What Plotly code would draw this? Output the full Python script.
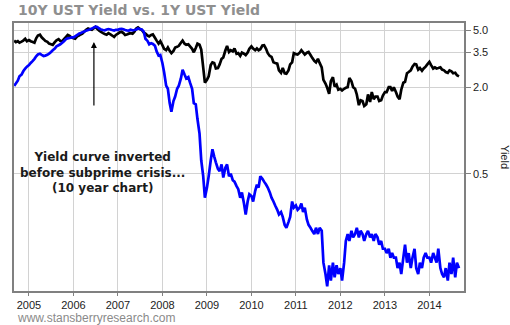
import pandas as pd
import plotly.graph_objects as go

# Observation dates: 1st and 15th of each month, Sep 2004 through Sep 1 2014
months = pd.date_range("2004-09-01", "2014-09-01", freq="MS")
dates = []
for m in months:
    dates.append(m)
    if m < months[-1]:
        dates.append(m + pd.Timedelta(days=14))

# 10-year Treasury yield (%)
y10_2004 = [4.22, 4.12, 4.18, 4.08, 4.15, 4.22, 4.34, 4.18]
y10_2005 = [4.26, 4.18, 4.13, 4.08, 4.38, 4.58, 4.64, 4.45, 4.32, 4.20, 4.14, 4.02,
            3.98, 3.94, 4.12, 4.24, 4.32, 4.20, 4.18, 4.32, 4.48, 4.62, 4.55, 4.44]
y10_2006 = [4.38, 4.35, 4.52, 4.58, 4.66, 4.72, 4.88, 5.02, 5.12, 5.06, 5.02, 5.14,
            5.26, 5.10, 4.94, 4.86, 4.76, 4.70, 4.64, 4.76, 4.66, 4.58, 4.48, 4.62]
y10_2007 = [4.72, 4.82, 4.86, 4.76, 4.62, 4.66, 4.72, 4.76, 4.72, 4.86, 5.12, 5.22,
            5.08, 5.02, 4.80, 4.72, 4.58, 4.52, 4.62, 4.66, 4.42, 4.22, 4.02, 4.18]
y10_2008 = [3.92, 3.70, 3.62, 3.78, 3.58, 3.45, 3.58, 3.78, 3.82, 3.88, 4.08, 4.22,
            4.02, 3.95, 3.98, 3.85, 3.70, 3.50, 3.75, 4.02, 3.95, 3.65, 2.75, 2.15]
y10_2009 = [2.25, 2.38, 2.85, 2.98, 2.95, 2.70, 2.72, 2.88, 3.15, 3.22, 3.60, 3.88,
            3.52, 3.62, 3.55, 3.72, 3.42, 3.45, 3.30, 3.48, 3.42, 3.35, 3.48, 3.70]
y10_2010 = [3.85, 3.72, 3.62, 3.72, 3.62, 3.68, 3.90, 3.92, 3.70, 3.45, 3.30, 3.25,
            2.98, 2.95, 2.92, 2.62, 2.52, 2.72, 2.50, 2.48, 2.62, 2.88, 2.98, 3.45]
y10_2011 = [3.40, 3.38, 3.48, 3.62, 3.50, 3.38, 3.48, 3.52, 3.35, 3.20, 3.05, 2.98,
            3.15, 2.95, 2.75, 2.25, 2.12, 1.98, 1.80, 2.20, 2.35, 2.02, 2.08, 1.92]
y10_2012 = [1.95, 1.90, 1.95, 1.98, 2.00, 2.32, 2.20, 2.00, 1.95, 1.78, 1.50, 1.62,
            1.60, 1.48, 1.52, 1.78, 1.58, 1.85, 1.65, 1.72, 1.72, 1.60, 1.62, 1.75]
y10_2013 = [1.85, 1.85, 2.00, 2.00, 1.88, 2.00, 1.85, 1.72, 1.65, 1.92, 2.15, 2.18,
            2.50, 2.55, 2.62, 2.78, 2.90, 2.88, 2.65, 2.72, 2.60, 2.70, 2.78, 2.88]
y10_2014 = [3.00, 2.85, 2.70, 2.75, 2.70, 2.72, 2.75, 2.65, 2.62, 2.55, 2.52, 2.62,
            2.58, 2.50, 2.52, 2.42, 2.38]

# 1-year Treasury yield (%)
y1_2004 = [2.04, 2.12, 2.22, 2.38, 2.45, 2.58, 2.70, 2.78]
y1_2005 = [2.85, 2.95, 3.05, 3.15, 3.28, 3.38, 3.42, 3.36, 3.30, 3.32, 3.36, 3.42,
           3.52, 3.62, 3.72, 3.85, 3.92, 3.98, 4.08, 4.18, 4.32, 4.38, 4.40, 4.44]
y1_2006 = [4.44, 4.52, 4.62, 4.72, 4.76, 4.82, 4.88, 4.95, 5.00, 5.05, 5.12, 5.20,
           5.28, 5.25, 5.12, 5.05, 5.00, 4.98, 5.04, 5.08, 5.04, 5.00, 4.96, 5.02]
y1_2007 = [5.02, 5.08, 5.10, 5.06, 5.00, 4.98, 4.96, 5.02, 4.98, 5.00, 5.04, 5.12,
           5.08, 5.05, 4.88, 4.35, 4.20, 3.98, 4.05, 4.00, 3.88, 3.55, 3.32, 3.35]
y1_2008 = [2.95, 2.55, 2.05, 1.95, 1.55, 1.35, 1.60, 1.72, 1.95, 2.05, 2.30, 2.65,
           2.45, 2.30, 2.35, 2.15, 1.95, 1.55, 1.52, 1.20, 0.95, 0.62, 0.48, 0.34]
y1_2009 = [0.40, 0.48, 0.62, 0.74, 0.66, 0.60, 0.54, 0.52, 0.58, 0.47, 0.55, 0.58,
           0.48, 0.50, 0.45, 0.44, 0.41, 0.39, 0.34, 0.37, 0.31, 0.26, 0.32, 0.36]
y1_2010 = [0.35, 0.32, 0.38, 0.42, 0.40, 0.48, 0.46, 0.44, 0.42, 0.40, 0.37, 0.34,
           0.32, 0.30, 0.28, 0.26, 0.27, 0.25, 0.22, 0.21, 0.23, 0.25, 0.32, 0.29]
y1_2011 = [0.30, 0.28, 0.29, 0.31, 0.27, 0.29, 0.24, 0.22, 0.21, 0.20, 0.19, 0.21,
           0.19, 0.21, 0.20, 0.12, 0.10, 0.082, 0.115, 0.09, 0.12, 0.095, 0.115, 0.10]
y1_2012 = [0.11, 0.09, 0.12, 0.17, 0.19, 0.17, 0.20, 0.18, 0.19, 0.21, 0.18, 0.20,
           0.19, 0.17, 0.19, 0.20, 0.18, 0.19, 0.17, 0.19, 0.18, 0.16, 0.17, 0.15]
y1_2013 = [0.15, 0.14, 0.15, 0.13, 0.14, 0.13, 0.13, 0.11, 0.12, 0.10, 0.13, 0.16,
           0.12, 0.14, 0.11, 0.13, 0.15, 0.11, 0.10, 0.12, 0.11, 0.13, 0.14, 0.13]
y1_2014 = [0.13, 0.12, 0.14, 0.13, 0.12, 0.15, 0.11, 0.10, 0.095, 0.11, 0.09, 0.12,
           0.10, 0.13, 0.095, 0.12, 0.11]

yield_10y = (y10_2004 + y10_2005 + y10_2006 + y10_2007 + y10_2008 + y10_2009
             + y10_2010 + y10_2011 + y10_2012 + y10_2013 + y10_2014)
yield_1y = (y1_2004 + y1_2005 + y1_2006 + y1_2007 + y1_2008 + y1_2009
            + y1_2010 + y1_2011 + y1_2012 + y1_2013 + y1_2014)

year_labels = [str(y) for y in range(2005, 2015)]
year_ticks = [f"{y}-01-01" for y in year_labels]
yield_ticks = [0.5, 2.0, 3.5, 5.0]
yield_labels = ["0.5", "2.0", "3.5", "5.0"]

AXIS_FONT = dict(family="Liberation Sans, Arial, sans-serif", size=11, color="#222222")
BOLD_FONT = "DejaVu Sans, Verdana, sans-serif"

fig = go.Figure()
fig.add_trace(go.Scatter(x=dates, y=yield_10y, mode="lines", name="10Y UST Yield",
                         line=dict(color="#000000", width=2.7, simplify=False)))
fig.add_trace(go.Scatter(x=dates, y=yield_1y, mode="lines", name="1Y UST Yield",
                         line=dict(color="#0000ff", width=2.7, simplify=False)))

fig.update_layout(
    width=510, height=325,
    margin=dict(l=14, r=46, t=23, b=34),
    plot_bgcolor="white", paper_bgcolor="white",
    showlegend=False,
)
fig.update_xaxes(
    type="date", range=["2004-08-31", "2014-10-12"],
    tickvals=year_ticks, ticktext=year_labels,
    showgrid=True, gridcolor="#d2d2d2", gridwidth=1,
    showline=True, linecolor="#808080", linewidth=1.5, mirror=True,
    ticks="outside", ticklen=3, tickcolor="#808080",
    tickfont=AXIS_FONT, zeroline=False,
)
fig.update_yaxes(
    type="log", side="right", range=[-1.118, 0.748],
    tickvals=yield_ticks, ticktext=yield_labels,
    showgrid=True, gridcolor="#d2d2d2", gridwidth=1,
    showline=True, linecolor="#808080", linewidth=1.5, mirror=True,
    ticks="outside", ticklen=5, tickcolor="#808080",
    tickfont=AXIS_FONT, zeroline=False,
)

fig.add_annotation(text="<b>10Y UST Yield vs. 1Y UST Yield</b>",
                   xref="paper", yref="paper", x=0, y=1, xanchor="left", yanchor="middle",
                   xshift=2.4, yshift=12.7, showarrow=False,
                   font=dict(family=BOLD_FONT, size=14, color="#8f8f8f"))
fig.add_annotation(text="Yield", textangle=90,
                   xref="paper", yref="paper", x=1, y=0.5, xanchor="center", yanchor="middle",
                   xshift=41, showarrow=False, font=AXIS_FONT)
fig.add_annotation(text="www.stansberryresearch.com",
                   xref="paper", yref="paper", x=0, y=0, xanchor="left", yanchor="middle",
                   xshift=1.4, yshift=-27.3, showarrow=False,
                   font=dict(family="Liberation Sans, Arial, sans-serif", size=12, color="#8a8a8a"))
fig.add_annotation(text="<b>Yield curve inverted<br>before subprime crisis...<br>(10 year chart)</b>",
                   xref="paper", yref="paper", x=0.197, y=0.444, xanchor="center", yanchor="middle",
                   showarrow=False, align="center",
                   font=dict(family=BOLD_FONT, size=12, color="#1a1a1a"))
fig.add_annotation(text="", xref="x", yref="paper", x="2006-06-18", y=0.929,
                   showarrow=True, ax=0, ay=65, arrowhead=2, arrowsize=1,
                   arrowwidth=1.2, arrowcolor="#000000")

fig.write_html("out.html")
